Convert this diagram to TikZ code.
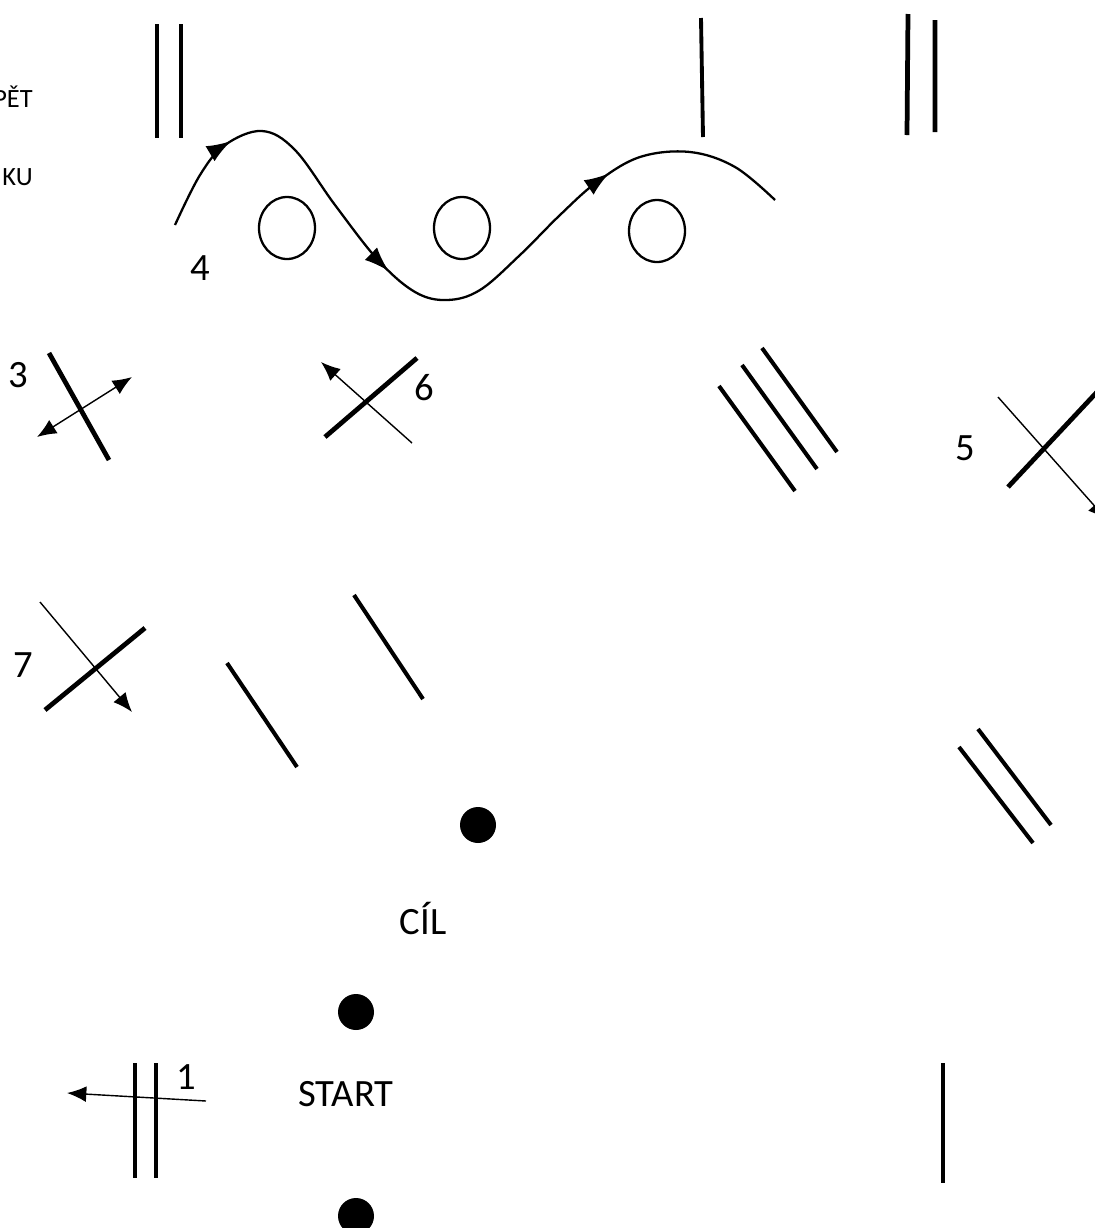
\documentclass[tikz,border=0pt]{standalone}
\usepackage{fontspec}
\setmainfont{Carlito}
\usetikzlibrary{arrows.meta,decorations.markings}

\begin{document}
\begin{tikzpicture}[x=0.02cm,y=-0.02cm,
  bar/.style={line width=2.7pt},
  stroke/.style={line width=2.3pt},
  thinarr/.style={line width=0.8pt},
  tip/.style={-{Latex[length=11pt,width=9pt]}},
  ring/.style={line width=1.3pt},
  lbl/.style={font=\fontsize{22}{24}\selectfont,inner sep=0pt},
  small/.style={font=\fontsize{15}{17}\selectfont,inner sep=0pt}]
  \useasboundingbox (0,0) rectangle (1095,1228);
  \clip (0,0) rectangle (1095,1228);
  % top row
  \node[small,anchor=base east] (zpet) at (33,107) {PĚT};
  \node[small,anchor=base east] (ku) at (33,185) {KU};
  \draw[bar] (157,24) -- (157,138) (181,24) -- (181,138);
  \draw[line width=2.2pt] (701,18) -- (703,137);
  \draw[bar] (908,14) -- (907,135) (935,20) -- (935,132);
  % slalom
  \draw[ring,postaction={decorate},decoration={markings,
      mark=at position 0.13 with {\arrow{Latex[length=14pt,width=10pt]}},
      mark=at position 0.415 with {\arrow{Latex[length=14pt,width=10pt]}},
      mark=at position 0.765 with {\arrow{Latex[length=14pt,width=10pt]}}}]
    plot[smooth,tension=0.6] coordinates {(175,225) (200,175) (225,145) (262,131)
      (295,150) (335,205) (378,260) (415,292) (447,300) (480,290) (520,255)
      (560,215) (597,182) (640,157) (690,152) (735,167) (775,200)};
  \draw[ring] (287,228) ellipse [x radius=28,y radius=31];
  \draw[ring] (462,228) ellipse [x radius=28,y radius=31];
  \draw[ring] (657,231) ellipse [x radius=28,y radius=31];
  \node[lbl] (n4) at (200,268) {4};
  % crossings
  \node[lbl] (n3) at (18,375) {3};
  \draw[bar] (49,353) -- (109,460);
  \draw[thinarr,{Latex[length=11pt,width=9pt]}-{Latex[length=11pt,width=9pt]}] (37,437) -- (132,377);
  \node[lbl] (n6) at (424,388) {6};
  \draw[bar] (325,437) -- (417,358);
  \draw[thinarr,tip] (412,443) -- (321,362);
  \draw[stroke] (719,386) -- (795,491) (742,365) -- (817,469) (762,348) -- (837,452);
  \node[lbl] (n5) at (965,448) {5};
  \draw[bar] (1008,487) -- (1112,376);
  \draw[thinarr,tip] (998,397) -- (1107,520);
  \node[lbl] (n7) at (23,665) {7};
  \draw[bar] (45,710) -- (145,628);
  \draw[thinarr,tip] (40,602) -- (132,712);
  \draw[stroke] (227,663) -- (297,767) (354,595) -- (423,699);
  \draw[stroke] (959,747) -- (1033,843) (978,729) -- (1051,825);
  % finish and start
  \fill (478,825) circle [radius=18];
  \node[lbl] (cil) at (423,918) {CÍL};
  \fill (356,1012) circle [radius=18];
  \node[lbl] (start) at (346,1094) {START};
  \fill (356,1216) circle [radius=18];
  \node[lbl] (n1) at (186,1077) {1};
  \draw[bar] (135,1063) -- (135,1178) (156,1063) -- (156,1178);
  \draw[thinarr,tip] (206,1101) -- (67,1093);
  \draw[bar] (943,1063) -- (943,1183);
\end{tikzpicture}
\end{document}
